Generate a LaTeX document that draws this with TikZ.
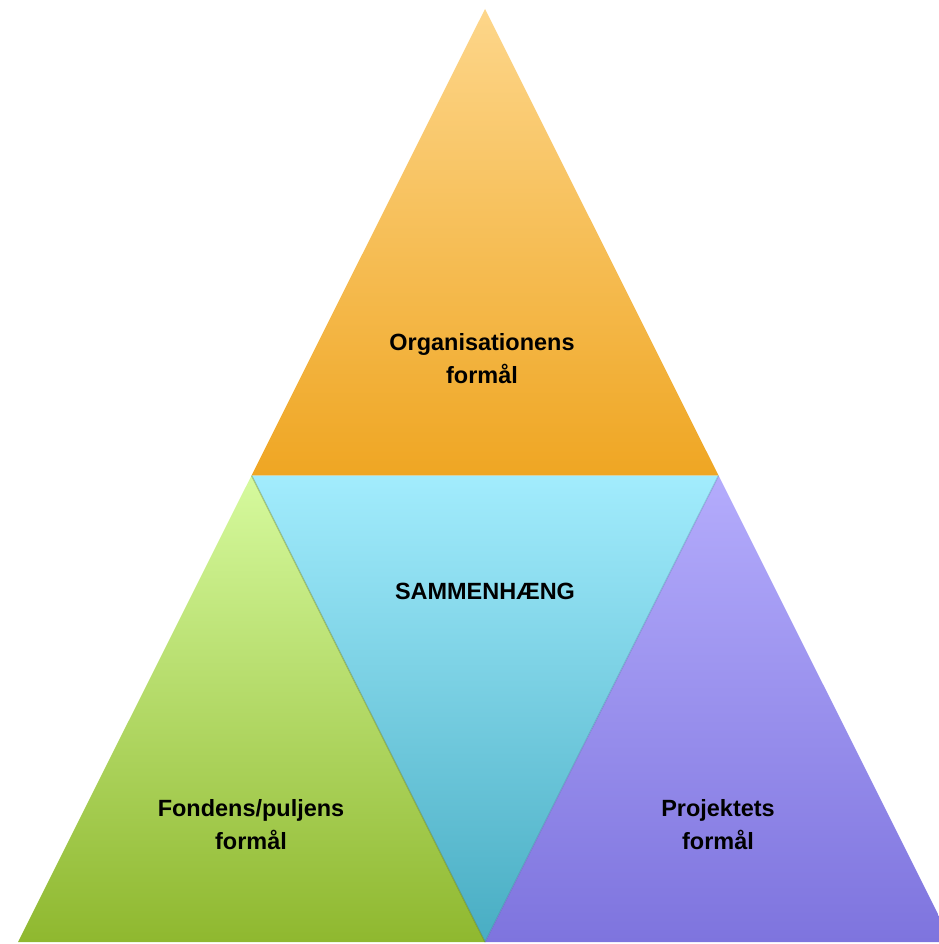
\documentclass[tikz,border=0pt]{standalone}
\usepackage{fontspec}
\setmainfont{Liberation Sans}
\definecolor{orgtop}{HTML}{FDD68A}
\definecolor{orgbot}{HTML}{EFA623}
\definecolor{samtop}{HTML}{A2ECFD}
\definecolor{sambot}{HTML}{48ADC3}
\definecolor{fontop}{HTML}{D6FA9E}
\definecolor{fonbot}{HTML}{8FB82F}
\definecolor{protop}{HTML}{B4ACFC}
\definecolor{probot}{HTML}{7E74DE}
\begin{document}
\begin{tikzpicture}[x=0.75pt,y=-0.75pt,
  txt/.style={font=\fontsize{17.6}{24.75}\selectfont\bfseries,align=center}]
\useasboundingbox (0,0) rectangle (938,944);
\coordinate (apex) at (485,9);
\coordinate (bl) at (18,942);
\coordinate (br) at (952,942);
\coordinate (ml) at (251.5,475.5);
\coordinate (mr) at (718.5,475.5);
\coordinate (mb) at (485,942);

\shade[top color=orgtop,bottom color=orgbot] (apex) -- (ml) -- (mr) -- cycle;
\shade[top color=samtop,bottom color=sambot] (ml) -- (mr) -- (mb) -- cycle;
\shade[top color=fontop,bottom color=fonbot] (ml) -- (mb) -- (bl) -- cycle;
\shade[top color=protop,bottom color=probot] (mr) -- (br) -- (mb) -- cycle;
\draw[fonbot!60!black,opacity=0.35,line width=1pt] (ml) -- (mb);
\draw[sambot!70!black,opacity=0.25,line width=1pt] (mr) -- (mb);

\node[txt] (org) at (482,359) {Organisationens\\formål};
\node[txt] (sam) at (485,591) {SAMMENHÆNG};
\node[txt] (fon) at (251,825) {Fondens/puljens\\formål};
\node[txt] (pro) at (718,825) {Projektets\\formål};
\end{tikzpicture}
\end{document}
